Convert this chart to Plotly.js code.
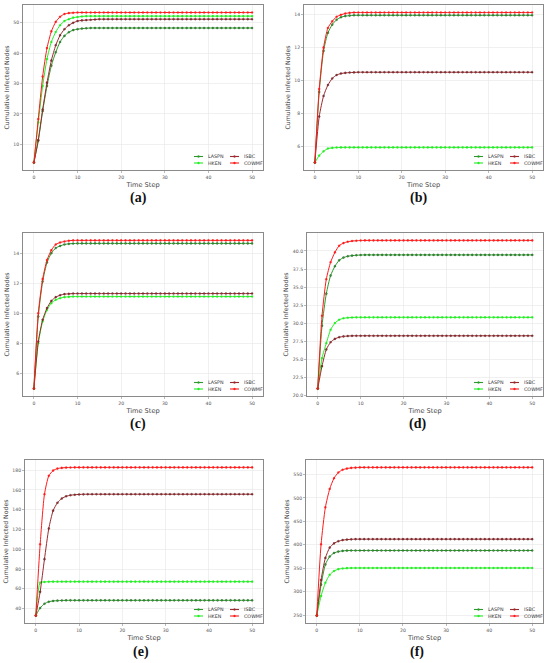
<!DOCTYPE html>
<html>
<head>
<meta charset="utf-8">
<script src="https://cdn.plot.ly/plotly-3.0.1.min.js"></script>
<style>html,body{margin:0;padding:0;background:#fff;}#chart{width:550px;height:663px;}</style>
</head>
<body>
<div id="chart"></div>
<script>
// ---------- DATA ----------
const TIME_STEPS = [0,1,2,3,4,5,6,7,8,9,
  10,11,12,13,14,15,16,17,18,19,
  20,21,22,23,24,25,26,27,28,29,
  30,31,32,33,34,35,36,37,38,39,
  40,41,42,43,44,45,46,47,48,49,
  50];
const SERIES_NAMES = ['LASPN','HKEN','ISBC','COWMF'];
const PANEL_LABELS = ['(a)','(b)','(c)','(d)','(e)','(f)'];
const X_TICKS = [0,10,20,30,40,50];

// (a)
const A_LASPN = [4,11.2,20.9,29.2,35.9,40.3,43.7,45.7,46.9,47.6,
  47.9,48.1,48.2,48.3,48.3,48.3,48.3,48.3,48.3,48.3,
  48.3,48.3,48.3,48.3,48.3,48.3,48.3,48.3,48.3,48.3,
  48.3,48.3,48.3,48.3,48.3,48.3,48.3,48.3,48.3,48.3,
  48.3,48.3,48.3,48.3,48.3,48.3,48.3,48.3,48.3,48.3,
  48.3];
const A_HKEN = [4,17.2,29.2,38.1,43.7,47,49.2,50.6,51.2,51.7,
  51.9,52.1,52.2,52.2,52.2,52.2,52.2,52.2,52.2,52.2,
  52.2,52.2,52.2,52.2,52.2,52.2,52.2,52.2,52.2,52.2,
  52.2,52.2,52.2,52.2,52.2,52.2,52.2,52.2,52.2,52.2,
  52.2,52.2,52.2,52.2,52.2,52.2,52.2,52.2,52.2,52.2,
  52.2];
const A_ISBC = [4,11.4,21.4,30.3,37.6,42.6,45.9,47.9,49.2,50,
  50.6,50.8,50.9,51,51.1,51.2,51.2,51.2,51.2,51.2,
  51.2,51.2,51.2,51.2,51.2,51.2,51.2,51.2,51.2,51.2,
  51.2,51.2,51.2,51.2,51.2,51.2,51.2,51.2,51.2,51.2,
  51.2,51.2,51.2,51.2,51.2,51.2,51.2,51.2,51.2,51.2,
  51.2];
const A_COWMF = [4,18.3,32.3,41.7,47.2,50.3,52,52.9,53.2,53.3,
  53.4,53.4,53.4,53.4,53.4,53.4,53.4,53.4,53.4,53.4,
  53.4,53.4,53.4,53.4,53.4,53.4,53.4,53.4,53.4,53.4,
  53.4,53.4,53.4,53.4,53.4,53.4,53.4,53.4,53.4,53.4,
  53.4,53.4,53.4,53.4,53.4,53.4,53.4,53.4,53.4,53.4,
  53.4];

// (b)
const B_LASPN = [5,9.3,11.8,12.9,13.4,13.7,13.85,13.92,13.95,13.97,
  13.97,13.97,13.97,13.97,13.97,13.97,13.97,13.97,13.97,13.97,
  13.97,13.97,13.97,13.97,13.97,13.97,13.97,13.97,13.97,13.97,
  13.97,13.97,13.97,13.97,13.97,13.97,13.97,13.97,13.97,13.97,
  13.97,13.97,13.97,13.97,13.97,13.97,13.97,13.97,13.97,13.97,
  13.97];
const B_HKEN = [5,5.42,5.68,5.85,5.89,5.91,5.92,5.92,5.92,5.92,
  5.92,5.92,5.92,5.92,5.92,5.92,5.92,5.92,5.92,5.92,
  5.92,5.92,5.92,5.92,5.92,5.92,5.92,5.92,5.92,5.92,
  5.92,5.92,5.92,5.92,5.92,5.92,5.92,5.92,5.92,5.92,
  5.92,5.92,5.92,5.92,5.92,5.92,5.92,5.92,5.92,5.92,
  5.92];
const B_ISBC = [5,7.8,9.05,9.72,10.12,10.33,10.42,10.46,10.48,10.49,
  10.5,10.5,10.5,10.5,10.5,10.5,10.5,10.5,10.5,10.5,
  10.5,10.5,10.5,10.5,10.5,10.5,10.5,10.5,10.5,10.5,
  10.5,10.5,10.5,10.5,10.5,10.5,10.5,10.5,10.5,10.5,
  10.5,10.5,10.5,10.5,10.5,10.5,10.5,10.5,10.5,10.5,
  10.5];
const B_COWMF = [5,9.48,12,13.2,13.6,13.88,14,14.08,14.12,14.14,
  14.14,14.14,14.14,14.14,14.14,14.14,14.14,14.14,14.14,14.14,
  14.14,14.14,14.14,14.14,14.14,14.14,14.14,14.14,14.14,14.14,
  14.14,14.14,14.14,14.14,14.14,14.14,14.14,14.14,14.14,14.14,
  14.14,14.14,14.14,14.14,14.14,14.14,14.14,14.14,14.14,14.14,
  14.14];

// (c)
const C_LASPN = [5,9.8,12.13,13.4,14.02,14.36,14.5,14.6,14.64,14.66,
  14.67,14.67,14.67,14.67,14.67,14.67,14.67,14.67,14.67,14.67,
  14.67,14.67,14.67,14.67,14.67,14.67,14.67,14.67,14.67,14.67,
  14.67,14.67,14.67,14.67,14.67,14.67,14.67,14.67,14.67,14.67,
  14.67,14.67,14.67,14.67,14.67,14.67,14.67,14.67,14.67,14.67,
  14.67];
const C_HKEN = [5,8.02,9.47,10.24,10.69,10.91,11.02,11.09,11.11,11.13,
  11.13,11.13,11.13,11.13,11.13,11.13,11.13,11.13,11.13,11.13,
  11.13,11.13,11.13,11.13,11.13,11.13,11.13,11.13,11.13,11.13,
  11.13,11.13,11.13,11.13,11.13,11.13,11.13,11.13,11.13,11.13,
  11.13,11.13,11.13,11.13,11.13,11.13,11.13,11.13,11.13,11.13,
  11.13];
const C_ISBC = [5,8.13,9.58,10.36,10.84,11.09,11.22,11.29,11.31,11.33,
  11.33,11.33,11.33,11.33,11.33,11.33,11.33,11.33,11.33,11.33,
  11.33,11.33,11.33,11.33,11.33,11.33,11.33,11.33,11.33,11.33,
  11.33,11.33,11.33,11.33,11.33,11.33,11.33,11.33,11.33,11.33,
  11.33,11.33,11.33,11.33,11.33,11.33,11.33,11.33,11.33,11.33,
  11.33];
const C_COWMF = [5,10.02,12.3,13.56,14.22,14.6,14.73,14.8,14.85,14.87,
  14.87,14.87,14.87,14.87,14.87,14.87,14.87,14.87,14.87,14.87,
  14.87,14.87,14.87,14.87,14.87,14.87,14.87,14.87,14.87,14.87,
  14.87,14.87,14.87,14.87,14.87,14.87,14.87,14.87,14.87,14.87,
  14.87,14.87,14.87,14.87,14.87,14.87,14.87,14.87,14.87,14.87,
  14.87];

// (d)
const D_LASPN = [21,29.68,34.1,36.6,37.88,38.7,39.08,39.26,39.35,39.4,
  39.43,39.45,39.45,39.45,39.45,39.45,39.45,39.45,39.45,39.45,
  39.45,39.45,39.45,39.45,39.45,39.45,39.45,39.45,39.45,39.45,
  39.45,39.45,39.45,39.45,39.45,39.45,39.45,39.45,39.45,39.45,
  39.45,39.45,39.45,39.45,39.45,39.45,39.45,39.45,39.45,39.45,
  39.45];
const D_HKEN = [21,25.2,27.27,29.12,30.04,30.5,30.7,30.78,30.81,30.83,
  30.83,30.83,30.83,30.83,30.83,30.83,30.83,30.83,30.83,30.83,
  30.83,30.83,30.83,30.83,30.83,30.83,30.83,30.83,30.83,30.83,
  30.83,30.83,30.83,30.83,30.83,30.83,30.83,30.83,30.83,30.83,
  30.83,30.83,30.83,30.83,30.83,30.83,30.83,30.83,30.83,30.83,
  30.83];
const D_ISBC = [21,24.1,26.4,27.4,27.86,28.09,28.2,28.25,28.28,28.29,
  28.29,28.29,28.29,28.29,28.29,28.29,28.29,28.29,28.29,28.29,
  28.29,28.29,28.29,28.29,28.29,28.29,28.29,28.29,28.29,28.29,
  28.29,28.29,28.29,28.29,28.29,28.29,28.29,28.29,28.29,28.29,
  28.29,28.29,28.29,28.29,28.29,28.29,28.29,28.29,28.29,28.29,
  28.29];
const D_COWMF = [21,31.06,36.1,38.43,39.8,40.72,41.08,41.27,41.36,41.41,
  41.44,41.45,41.45,41.45,41.45,41.45,41.45,41.45,41.45,41.45,
  41.45,41.45,41.45,41.45,41.45,41.45,41.45,41.45,41.45,41.45,
  41.45,41.45,41.45,41.45,41.45,41.45,41.45,41.45,41.45,41.45,
  41.45,41.45,41.45,41.45,41.45,41.45,41.45,41.45,41.45,41.45,
  41.45];

// (e)
const E_LASPN = [33,40.7,45,47,47.8,48.1,48.3,48.4,48.4,48.4,
  48.4,48.4,48.4,48.4,48.4,48.4,48.4,48.4,48.4,48.4,
  48.4,48.4,48.4,48.4,48.4,48.4,48.4,48.4,48.4,48.4,
  48.4,48.4,48.4,48.4,48.4,48.4,48.4,48.4,48.4,48.4,
  48.4,48.4,48.4,48.4,48.4,48.4,48.4,48.4,48.4,48.4,
  48.4];
const E_HKEN = [33,66.3,67,67.2,67.3,67.3,67.3,67.3,67.3,67.3,
  67.3,67.3,67.3,67.3,67.3,67.3,67.3,67.3,67.3,67.3,
  67.3,67.3,67.3,67.3,67.3,67.3,67.3,67.3,67.3,67.3,
  67.3,67.3,67.3,67.3,67.3,67.3,67.3,67.3,67.3,67.3,
  67.3,67.3,67.3,67.3,67.3,67.3,67.3,67.3,67.3,67.3,
  67.3];
const E_ISBC = [33,57,90,121,139,147,151.3,153.5,154.6,155.1,
  155.4,155.5,155.6,155.6,155.6,155.6,155.6,155.6,155.6,155.6,
  155.6,155.6,155.6,155.6,155.6,155.6,155.6,155.6,155.6,155.6,
  155.6,155.6,155.6,155.6,155.6,155.6,155.6,155.6,155.6,155.6,
  155.6,155.6,155.6,155.6,155.6,155.6,155.6,155.6,155.6,155.6,
  155.6];
const E_COWMF = [33,105,155.6,174.2,179.5,181.5,182.2,182.5,182.6,182.7,
  182.7,182.7,182.7,182.7,182.7,182.7,182.7,182.7,182.7,182.7,
  182.7,182.7,182.7,182.7,182.7,182.7,182.7,182.7,182.7,182.7,
  182.7,182.7,182.7,182.7,182.7,182.7,182.7,182.7,182.7,182.7,
  182.7,182.7,182.7,182.7,182.7,182.7,182.7,182.7,182.7,182.7,
  182.7];

// (f)
const F_LASPN = [249,315,358,375,382.5,385.5,387,387.6,387.8,387.8,
  387.8,387.8,387.8,387.8,387.8,387.8,387.8,387.8,387.8,387.8,
  387.8,387.8,387.8,387.8,387.8,387.8,387.8,387.8,387.8,387.8,
  387.8,387.8,387.8,387.8,387.8,387.8,387.8,387.8,387.8,387.8,
  387.8,387.8,387.8,387.8,387.8,387.8,387.8,387.8,387.8,387.8,
  387.8];
const F_HKEN = [249,291,319,336,344,348,349.5,350.2,350.5,350.6,
  350.6,350.6,350.6,350.6,350.6,350.6,350.6,350.6,350.6,350.6,
  350.6,350.6,350.6,350.6,350.6,350.6,350.6,350.6,350.6,350.6,
  350.6,350.6,350.6,350.6,350.6,350.6,350.6,350.6,350.6,350.6,
  350.6,350.6,350.6,350.6,350.6,350.6,350.6,350.6,350.6,350.6,
  350.6];
const F_ISBC = [249,325,372,394,403,407.5,410,411,411.6,412,
  412,412,412,412,412,412,412,412,412,412,
  412,412,412,412,412,412,412,412,412,412,
  412,412,412,412,412,412,412,412,412,412,
  412,412,412,412,412,412,412,412,412,412,
  412];
const F_COWMF = [249,401,480,519,542,554,560,562.5,564,564.5,
  565,565,565,565,565,565,565,565,565,565,
  565,565,565,565,565,565,565,565,565,565,
  565,565,565,565,565,565,565,565,565,565,
  565,565,565,565,565,565,565,565,565,565,
  565];

// ---------- STYLE / LAYOUT ----------
const W = 550, H = 663;
const COLORS = ['#2a9a2a', '#22ee22', '#9b2a2e', '#ff1a1a'];
const FONT = 'DejaVu Sans, Arial, sans-serif';

const panels = [
  {data:[A_LASPN,A_HKEN,A_ISBC,A_COWMF], rect:[23,5,263,170],  dtick:10,  fmt:'',    lab:[138,198]},
  {data:[B_LASPN,B_HKEN,B_ISBC,B_COWMF], rect:[304,5,543,170], dtick:2,   fmt:'',    lab:[418,198]},
  {data:[C_LASPN,C_HKEN,C_ISBC,C_COWMF], rect:[23,233,263,396],dtick:2,   fmt:'',    lab:[138,424]},
  {data:[D_LASPN,D_HKEN,D_ISBC,D_COWMF], rect:[307,233,543,396],dtick:2.5,fmt:'.1f', lab:[417,424]},
  {data:[E_LASPN,E_HKEN,E_ISBC,E_COWMF], rect:[25,460,263,623],dtick:20,  fmt:'',    lab:[141,652]},
  {data:[F_LASPN,F_HKEN,F_ISBC,F_COWMF], rect:[306,460,543,623],dtick:50, fmt:'',    lab:[417,652]}
];

const traces = [];
const layout = {
  width: W, height: H, autosize: false,
  margin: {l:0, r:0, t:0, b:0, pad:0},
  showlegend: false,
  paper_bgcolor: '#ffffff', plot_bgcolor: '#ffffff',
  font: {family: FONT, color: '#333'},
  annotations: [], shapes: []
};

const px = v => v / W;
const py = v => 1 - v / H;

panels.forEach((p, i) => {
  const n = i + 1;
  const sfx = n > 1 ? String(n) : '';
  const xa = 'x' + sfx, ya = 'y' + sfx;
  const all = [].concat(...p.data);
  const mn = Math.min(...all), mx = Math.max(...all), pad = (mx - mn) * 0.05;
  p.data.forEach((ys, k) => {
    traces.push({
      type: 'scatter', mode: 'lines+markers',
      x: TIME_STEPS, y: ys, xaxis: xa, yaxis: ya,
      name: SERIES_NAMES[k],
      line: {color: COLORS[k], width: 1, shape: 'spline', smoothing: 0.6},
      marker: {color: COLORS[k], size: 2.1, line: {width: 0.25, color: k === 0 || k === 2 ? '#222' : COLORS[k]}},
      hoverinfo: 'skip'
    });
  });
  const [l, t, r, b] = p.rect;
  const common = {
    showline: true, mirror: true, linecolor: '#8a8a8a', linewidth: 1,
    showgrid: true, gridcolor: '#e6e6e6', gridwidth: 0.6,
    zeroline: false, ticks: 'outside', ticklen: 2, tickwidth: 0.6, tickcolor: '#8a8a8a',
    tickfont: {size: 4.6, color: '#555', family: FONT},
    automargin: false, fixedrange: true
  };
  layout['xaxis' + sfx] = Object.assign({}, common, {
    domain: [px(l), px(r)], anchor: ya,
    range: [-2.5, 52.5], tickvals: X_TICKS,
    title: {text: 'Time Step', font: {size: 6.6, color: '#444', family: FONT}, standoff: 3}
  });
  layout['yaxis' + sfx] = Object.assign({}, common, {
    domain: [py(b), py(t)], anchor: xa,
    range: [mn - pad, mx + pad], tick0: 0, dtick: p.dtick, tickformat: p.fmt,
    title: {text: 'Cumulative Infected Nodes', font: {size: 6.2, color: '#444', family: FONT}, standoff: 3}
  });

  // panel label
  layout.annotations.push({
    xref: 'paper', yref: 'paper', x: px(p.lab[0]), y: py(p.lab[1]),
    xanchor: 'center', yanchor: 'middle', showarrow: false,
    text: '<b>' + PANEL_LABELS[i] + '</b>',
    font: {family: 'Liberation Serif, DejaVu Serif, serif', size: 14, color: '#111'}
  });

  // legend (two columns, lower-right inside plot)
  SERIES_NAMES.forEach((name, k) => {
    const col = k < 2 ? 0 : 1, row = k % 2;
    const x0 = r - 69 + col * 36;
    const yy = b - 13.5 + row * 6.5;
    layout.shapes.push({type: 'line', xref: 'paper', yref: 'paper',
      x0: px(x0), x1: px(x0 + 9), y0: py(yy), y1: py(yy),
      line: {color: COLORS[k], width: 1.1}});
    layout.shapes.push({type: 'circle', xref: 'paper', yref: 'paper',
      x0: px(x0 + 3.5), x1: px(x0 + 5.5), y0: py(yy + 1), y1: py(yy - 1),
      fillcolor: COLORS[k], line: {color: COLORS[k], width: 0.3}});
    layout.annotations.push({
      xref: 'paper', yref: 'paper', x: px(x0 + 12), y: py(yy),
      xanchor: 'left', yanchor: 'middle', showarrow: false,
      text: name, font: {size: 4.8, color: '#333', family: FONT}
    });
  });
});

Plotly.newPlot('chart', traces, layout, {staticPlot: true, displayModeBar: false});
</script>
</body>
</html>
